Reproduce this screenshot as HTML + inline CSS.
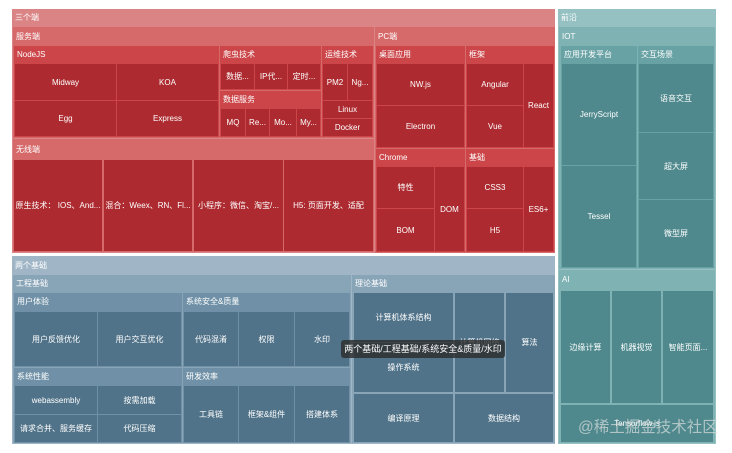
<!DOCTYPE html>
<html><head><meta charset="utf-8">
<style>
html,body{margin:0;padding:0;background:#fff;}
#c{position:relative;width:732px;height:453px;overflow:hidden;background:#fff;font-family:"Liberation Sans","Noto Sans CJK SC",sans-serif;}
.n,.l{position:absolute;box-sizing:border-box;color:#fff;font-size:8px;white-space:nowrap;overflow:hidden;}
.n>div{padding-left:3px;}
.l{display:flex;align-items:center;justify-content:center;}
.r0{background:#da8485}.r1{background:#d66a6b}.r2{background:#cb4549}.rl{background:#ad2b30}
.b0{background:#a0b6c6}.b1{background:#88a4b7}.b2{background:#6f90a6}.bl{background:#507389}
.t0{background:#95c1c2}.t1{background:#7fb2b3}.t2{background:#68a2a4}.tl{background:#4f898d}
#tip{position:absolute;left:341px;top:340px;width:164px;height:18px;background:rgba(45,45,45,0.82);border-radius:3px;color:#fff;font-size:9px;line-height:18px;text-align:center;white-space:nowrap;}
#wm{position:absolute;left:578px;top:418px;font-size:15.5px;color:rgba(215,220,220,0.72);white-space:nowrap;line-height:20px;}
</style></head><body><div id="c">

<!-- 三个端 -->
<div class="n r0" style="left:12px;top:9px;width:543px;height:244px"><div style="line-height:18px">三个端</div></div>
<div class="n r1" style="left:13px;top:27px;width:361px;height:111px"><div style="line-height:19px">服务端</div></div>
<div class="n r2" style="left:14px;top:46px;width:205px;height:91px"><div style="line-height:18px">NodeJS</div></div>
<div class="l rl" style="left:15px;top:64px;width:101px;height:36px">Midway</div>
<div class="l rl" style="left:117px;top:64px;width:101px;height:36px">KOA</div>
<div class="l rl" style="left:15px;top:101px;width:101px;height:35px">Egg</div>
<div class="l rl" style="left:117px;top:101px;width:101px;height:35px">Express</div>
<div class="n r2" style="left:220px;top:46px;width:101px;height:44px"><div style="line-height:18px">爬虫技术</div></div>
<div class="l rl" style="left:221px;top:64px;width:33px;height:25px">数据...</div>
<div class="l rl" style="left:255px;top:64px;width:32px;height:25px">IP代...</div>
<div class="l rl" style="left:288px;top:64px;width:32px;height:25px">定时...</div>
<div class="n r2" style="left:220px;top:91px;width:101px;height:46px"><div style="line-height:18px">数据服务</div></div>
<div class="l rl" style="left:221px;top:109px;width:24px;height:27px">MQ</div>
<div class="l rl" style="left:246px;top:109px;width:23px;height:27px">Re...</div>
<div class="l rl" style="left:270px;top:109px;width:26px;height:27px">Mo...</div>
<div class="l rl" style="left:297px;top:109px;width:23px;height:27px">My...</div>
<div class="n r2" style="left:322px;top:46px;width:51px;height:91px"><div style="line-height:18px">运维技术</div></div>
<div class="l rl" style="left:323px;top:64px;width:24px;height:36px">PM2</div>
<div class="l rl" style="left:348px;top:64px;width:24px;height:36px">Ng...</div>
<div class="l rl" style="left:323px;top:101px;width:49px;height:17px">Linux</div>
<div class="l rl" style="left:323px;top:119px;width:49px;height:17px">Docker</div>

<div class="n r1" style="left:13px;top:139px;width:361px;height:113px"><div style="line-height:21px">无线端</div></div>
<div class="l rl" style="left:14px;top:160px;width:88px;height:91px">原生技术： IOS、And...</div>
<div class="l rl" style="left:104px;top:160px;width:88px;height:91px">混合：Weex、RN、Fl...</div>
<div class="l rl" style="left:194px;top:160px;width:89px;height:91px">小程序：微信、淘宝/...</div>
<div class="l rl" style="left:284px;top:160px;width:89px;height:91px">H5: 页面开发、适配</div>

<div class="n r1" style="left:375px;top:27px;width:180px;height:226px"><div style="line-height:19px">PC端</div></div>
<div class="n r2" style="left:376px;top:46px;width:89px;height:102px"><div style="line-height:18px">桌面应用</div></div>
<div class="l rl" style="left:377px;top:64px;width:87px;height:41px">NW.js</div>
<div class="l rl" style="left:377px;top:106px;width:87px;height:41px">Electron</div>
<div class="n r2" style="left:466px;top:46px;width:88px;height:102px"><div style="line-height:18px">框架</div></div>
<div class="l rl" style="left:467px;top:64px;width:56px;height:41px">Angular</div>
<div class="l rl" style="left:467px;top:106px;width:56px;height:41px">Vue</div>
<div class="l rl" style="left:524px;top:64px;width:29px;height:83px">React</div>
<div class="n r2" style="left:376px;top:149px;width:89px;height:103px"><div style="line-height:18px">Chrome</div></div>
<div class="l rl" style="left:377px;top:167px;width:57px;height:41px">特性</div>
<div class="l rl" style="left:377px;top:209px;width:57px;height:42px">BOM</div>
<div class="l rl" style="left:435px;top:167px;width:29px;height:84px">DOM</div>
<div class="n r2" style="left:466px;top:149px;width:88px;height:103px"><div style="line-height:18px">基础</div></div>
<div class="l rl" style="left:467px;top:167px;width:56px;height:41px">CSS3</div>
<div class="l rl" style="left:467px;top:209px;width:56px;height:42px">H5</div>
<div class="l rl" style="left:524px;top:167px;width:29px;height:84px">ES6+</div>

<!-- 前沿 -->
<div class="n t0" style="left:558px;top:9px;width:158px;height:435px"><div style="line-height:18px">前沿</div></div>
<div class="n t1" style="left:559px;top:27px;width:156px;height:242px"><div style="line-height:19px">IOT</div></div>
<div class="n t2" style="left:561px;top:46px;width:76px;height:222px"><div style="line-height:18px">应用开发平台</div></div>
<div class="l tl" style="left:562px;top:64px;width:74px;height:101px">JerryScript</div>
<div class="l tl" style="left:562px;top:166px;width:74px;height:101px">Tessel</div>
<div class="n t2" style="left:638px;top:46px;width:76px;height:222px"><div style="line-height:18px">交互场景</div></div>
<div class="l tl" style="left:639px;top:64px;width:74px;height:68px">语音交互</div>
<div class="l tl" style="left:639px;top:133px;width:74px;height:66px">超大屏</div>
<div class="l tl" style="left:639px;top:200px;width:74px;height:67px">微型屏</div>
<div class="n t1" style="left:559px;top:270px;width:156px;height:173px"><div style="line-height:20px">AI</div></div>
<div class="l tl" style="left:561px;top:291px;width:49px;height:112px">边缘计算</div>
<div class="l tl" style="left:612px;top:291px;width:49px;height:112px">机器视觉</div>
<div class="l tl" style="left:663px;top:291px;width:50px;height:112px">智能页面...</div>
<div class="l tl" style="left:561px;top:405px;width:152px;height:37px">Tensorflow.js</div>

<!-- 两个基础 -->
<div class="n b0" style="left:12px;top:256px;width:543px;height:188px"><div style="line-height:19px">两个基础</div></div>
<div class="n b1" style="left:13px;top:275px;width:338px;height:168px"><div style="line-height:18px">工程基础</div></div>
<div class="n b2" style="left:14px;top:293px;width:168px;height:74px"><div style="line-height:18px">用户体验</div></div>
<div class="l bl" style="left:15px;top:312px;width:82px;height:54px">用户反馈优化</div>
<div class="l bl" style="left:98px;top:312px;width:83px;height:54px">用户交互优化</div>
<div class="n b2" style="left:183px;top:293px;width:167px;height:74px"><div style="line-height:18px">系统安全&amp;质量</div></div>
<div class="l bl" style="left:184px;top:312px;width:54px;height:54px">代码混淆</div>
<div class="l bl" style="left:239px;top:312px;width:55px;height:54px">权限</div>
<div class="l bl" style="left:295px;top:312px;width:54px;height:54px">水印</div>
<div class="n b2" style="left:14px;top:368px;width:168px;height:75px"><div style="line-height:18px">系统性能</div></div>
<div class="l bl" style="left:15px;top:386px;width:82px;height:28px">webassembly</div>
<div class="l bl" style="left:15px;top:415px;width:82px;height:27px">请求合并、服务缓存</div>
<div class="l bl" style="left:98px;top:386px;width:83px;height:28px">按需加载</div>
<div class="l bl" style="left:98px;top:415px;width:83px;height:27px">代码压缩</div>
<div class="n b2" style="left:183px;top:368px;width:167px;height:75px"><div style="line-height:18px">研发效率</div></div>
<div class="l bl" style="left:184px;top:386px;width:54px;height:56px">工具链</div>
<div class="l bl" style="left:239px;top:386px;width:55px;height:56px">框架&amp;组件</div>
<div class="l bl" style="left:295px;top:386px;width:54px;height:56px">搭建体系</div>
<div class="n b1" style="left:352px;top:275px;width:203px;height:168px"><div style="line-height:18px">理论基础</div></div>
<div class="l bl" style="left:354px;top:293px;width:99px;height:49px">计算机体系结构</div>
<div class="l bl" style="left:354px;top:343px;width:99px;height:49px">操作系统</div>
<div class="l bl" style="left:455px;top:293px;width:49px;height:99px">计算机网络</div>
<div class="l bl" style="left:506px;top:293px;width:47px;height:99px">算法</div>
<div class="l bl" style="left:354px;top:394px;width:99px;height:48px">编译原理</div>
<div class="l bl" style="left:455px;top:394px;width:98px;height:48px">数据结构</div>

<div id="tip">两个基础/工程基础/系统安全&amp;质量/水印</div>
<div id="wm">@稀土掘金技术社区</div>
</div></body></html>
